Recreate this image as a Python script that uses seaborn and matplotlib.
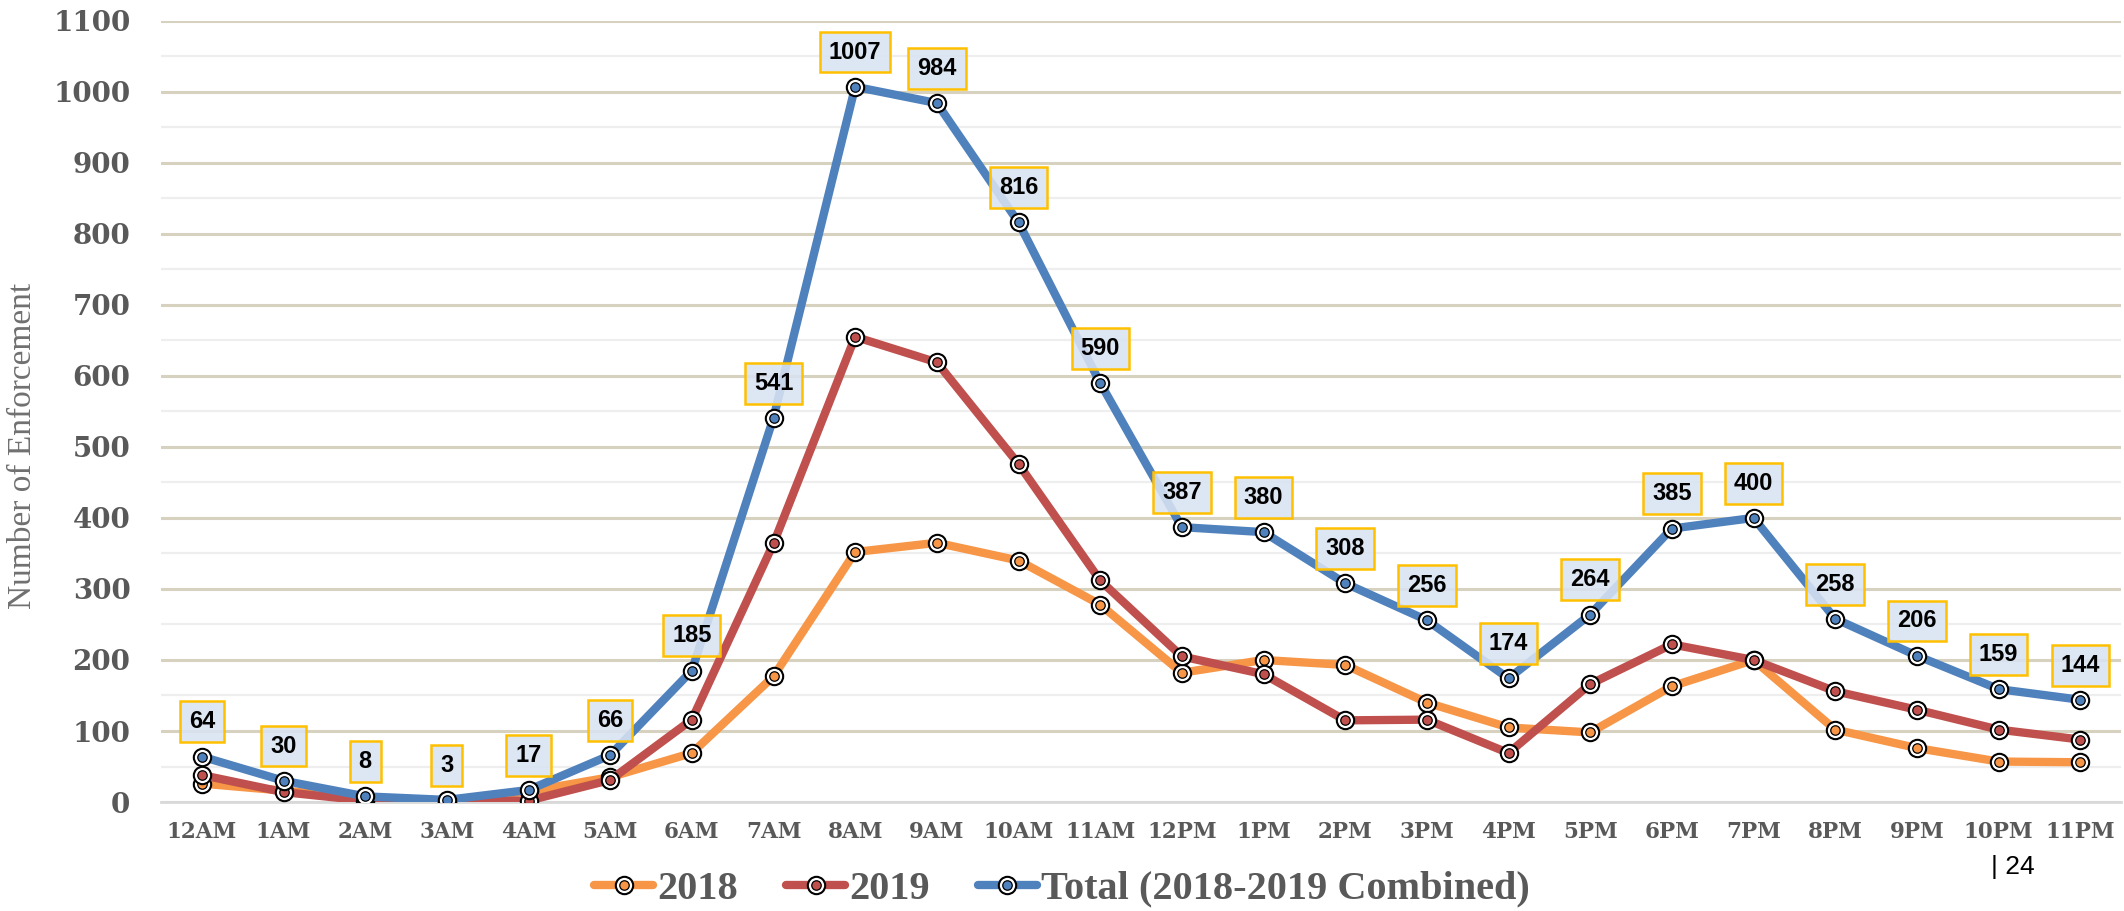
import pandas as pd
import matplotlib.pyplot as plt
import seaborn as sns
from matplotlib.ticker import MultipleLocator

sns.set_style('white')

hours = ['12AM', '1AM', '2AM', '3AM', '4AM', '5AM', '6AM', '7AM', '8AM', '9AM',
         '10AM', '11AM', '12PM', '1PM', '2PM', '3PM', '4PM', '5PM', '6PM', '7PM',
         '8PM', '9PM', '10PM', '11PM']
y2018 = [26, 16, 6, 2, 15, 35, 69, 177, 352, 365, 340, 278,
         182, 200, 193, 140, 105, 98, 163, 200, 102, 76, 57, 56]
y2019 = [38, 14, 2, 1, 2, 31, 116, 364, 655, 619, 476, 312,
         205, 180, 115, 116, 69, 166, 222, 200, 156, 130, 102, 88]
total = [64, 30, 8, 3, 17, 66, 185, 541, 1007, 984, 816, 590,
         387, 380, 308, 256, 174, 264, 385, 400, 258, 206, 159, 144]

df = pd.DataFrame({'hour': hours, '2018': y2018, '2019': y2019, 'total': total})

series = [('2018', '#f79646', '2018'),
          ('2019', '#c0504d', '2019'),
          ('total', '#4f81bd', 'Total (2018-2019 Combined)')]

fig = plt.figure(figsize=(21.24, 9.11), dpi=100)
ax = fig.add_axes([0.0758, 0.1196, 0.9228, 0.8577])

handles = []
for i, (col, color, label) in enumerate(series):
    sns.lineplot(data=df, x='hour', y=col, ax=ax, color=color, lw=6,
                 sort=False, marker='o', markersize=12.5, markerfacecolor='white',
                 markeredgecolor='black', markeredgewidth=1.5,
                 solid_capstyle='round', zorder=3 + i)
    outer = ax.lines[-1]
    inner, = ax.plot(df['hour'], df[col], linestyle='none', marker='o',
                     markersize=6.8, markerfacecolor=color,
                     markeredgecolor='black', markeredgewidth=0.9,
                     zorder=3.5 + i)
    handles.append(((outer, inner), label))

# data labels on the total line
for i, v in enumerate(total):
    ax.annotate(str(v), (i, v), xytext=(0, 25), textcoords='offset points',
                ha='center', va='center', fontsize=17, fontweight='bold',
                family='Liberation Sans', color='black',
                bbox=dict(boxstyle='square,pad=0.38', fc=(0.85, 0.89, 0.95, 0.88),
                          ec='#ffc000', lw=1.8),
                zorder=10)

ax.set_xlim(-0.5, 23.5)
ax.set_ylim(0, 1100)
ax.yaxis.set_major_locator(MultipleLocator(100))
ax.yaxis.set_minor_locator(MultipleLocator(50))
ax.grid(which='major', axis='y', color='#d6d2bf', lw=2.2, zorder=0)
ax.grid(which='minor', axis='y', color='#eeeeee', lw=1.6, zorder=0)
ax.grid(False, axis='x')
for s in ['left', 'right', 'top']:
    ax.spines[s].set_visible(False)
ax.spines['bottom'].set_color('#d9d9d9')
ax.spines['bottom'].set_linewidth(2)
ax.spines['bottom'].set_zorder(1)

ax.tick_params(axis='both', which='both', length=0)
ax.tick_params(axis='y', pad=22)
ax.tick_params(axis='x', pad=14)
for t in ax.get_yticklabels():
    t.set_fontfamily('DejaVu Serif')
    t.set_fontweight('bold')
    t.set_fontsize(20)
    t.set_color('#595959')
for t in ax.get_xticklabels():
    t.set_fontfamily('DejaVu Serif')
    t.set_fontweight('bold')
    t.set_fontsize(15.5)
    t.set_color('#595959')

ax.set_xlabel('')
ax.set_ylabel('Number of Enforcement', family='Liberation Serif', fontsize=24,
              color='#707070')
ax.yaxis.set_label_coords(-0.0628, 0.456)

fig.legend([h for h, _ in handles], [l for _, l in handles], loc='center',
           bbox_to_anchor=(0.5, 0.024), ncol=3, frameon=False,
           prop=dict(family='Liberation Serif', weight='bold', size=29),
           labelcolor='#595959', handlelength=1.46, handletextpad=0.1,
           columnspacing=1.2)

fig.text(2013 / 2124, 1 - 867 / 911, '| 24', family='Liberation Sans',
         fontsize=19, color='black', ha='center', va='center')

fig.savefig('out.png', dpi=100)
